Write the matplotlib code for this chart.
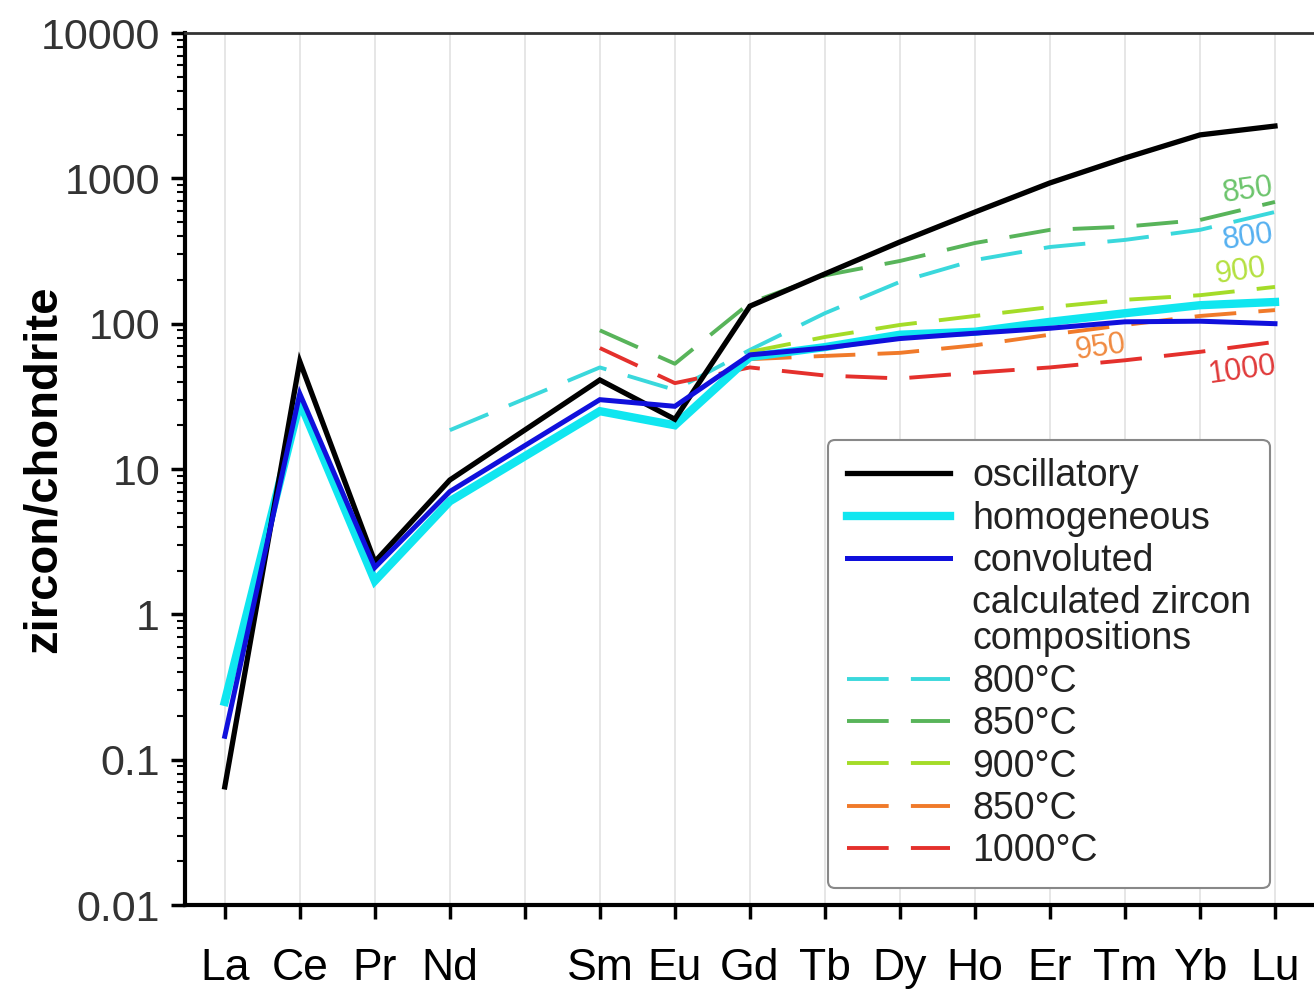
import matplotlib
matplotlib.use("Agg")
import matplotlib.pyplot as plt
import numpy as np
from matplotlib.ticker import LogLocator, FixedLocator, FuncFormatter, NullFormatter

plt.rcParams["lines.scale_dashes"] = False

# REE order (Pm left blank)
elements = ["La", "Ce", "Pr", "Nd", "", "Sm", "Eu", "Gd", "Tb", "Dy", "Ho", "Er", "Tm", "Yb", "Lu"]

# measured zircon groups: La Ce Pr Nd Sm Eu Gd Tb Dy Ho Er Tm Yb Lu
measuredEls = ["La", "Ce", "Pr", "Nd", "Sm", "Eu", "Gd", "Tb", "Dy", "Ho", "Er", "Tm", "Yb", "Lu"]
oscillatory = [0.065, 55, 2.3, 8.4, 41, 22, 132, 220, 365, 586, 930, 1380, 1990, 2290]
homogeneous = [0.25, 29, 1.7, 6.0, 25, 20, 59, 69, 84, 88, 103, 118, 134, 141]
convoluted = [0.145, 33, 2.1, 7.0, 30, 27, 61, 68, 79, 86, 93, 103, 104, 100]

# calculated zircon compositions
calc800Els = ["Nd", "Sm", "Eu", "Gd", "Tb", "Dy", "Ho", "Er", "Tm", "Yb", "Lu"]
calc800 = [18.5, 50, 35, 66, 118, 194, 274, 337, 377, 442, 587]
calc850Els = ["Sm", "Eu", "Gd", "Tb", "Dy", "Ho", "Er", "Tm", "Yb", "Lu"]
calc850 = [90, 53, 139, 215, 270, 359, 442, 465, 517, 688]
calc900Els = ["Gd", "Tb", "Dy", "Ho", "Er", "Tm", "Yb", "Lu"]
calc900 = [64, 81, 98, 113, 130, 146, 157, 179]
calc950Els = ["Gd", "Tb", "Dy", "Ho", "Er", "Tm", "Yb", "Lu"]
calc950 = [57, 60, 63, 71, 84, 98, 113, 124]
calc1000Els = ["Sm", "Eu", "Gd", "Tb", "Dy", "Ho", "Er", "Tm", "Yb", "Lu"]
calc1000 = [68, 39, 50, 44, 42, 46, 50, 56, 64, 75]


def xs(names):
    return [elements.index(n) for n in names]


font = ["Liberation Sans", "DejaVu Sans"]

fig = plt.figure(figsize=(13.14, 9.94), dpi=100)
ax = fig.add_axes([0.1408, 0.0895, 0.8592, 0.8773])

dash = (30, 16)
ax.plot(xs(calc800Els), calc800, color="#3ad8dc", lw=2.8, dashes=dash, label="800°C")
ax.plot(xs(calc850Els), calc850, color="#58b45a", lw=2.8, dashes=dash, label="850°C")
ax.plot(xs(calc900Els), calc900, color="#a4dc28", lw=2.8, dashes=dash, label="900°C")
ax.plot(xs(calc950Els), calc950, color="#f07a2a", lw=2.8, dashes=dash, label="850°C")
ax.plot(xs(calc1000Els), calc1000, color="#e4302c", lw=2.8, dashes=dash, label="1000°C")

ax.plot(xs(measuredEls), homogeneous, color="#10e6f0", lw=6, solid_joinstyle="miter", label="homogeneous")
ax.plot(xs(measuredEls), oscillatory, color="black", lw=3.8, solid_joinstyle="miter", label="oscillatory")
ax.plot(xs(measuredEls), convoluted, color="#1010dc", lw=3.6, solid_joinstyle="miter", label="convoluted")

labelRot = 8
ax.text(13.64, 830, "850", color="#6cc46c", fontsize=22, family=font, ha="center", va="center", rotation=labelRot)
ax.text(13.64, 390, "800", color="#55b0f0", fontsize=22, family=font, ha="center", va="center", rotation=labelRot)
ax.text(13.55, 228, "900", color="#b4e040", fontsize=22, family=font, ha="center", va="center", rotation=labelRot)
ax.text(11.67, 68, "950", color="#f08a40", fontsize=22, family=font, ha="center", va="center", rotation=labelRot)
ax.text(13.57, 48, "1000", color="#e03a3a", fontsize=22, family=font, ha="center", va="center", rotation=labelRot)

ax.set_yscale("log")
ax.set_ylim(0.01, 10000)
ax.set_xlim(-0.53, 14.52)

ax.xaxis.set_major_locator(FixedLocator(range(len(elements))))
ax.set_xticklabels(elements, fontsize=32, family=font)
ax.tick_params(axis="x", direction="out", length=10, width=2.5, pad=21)

ax.yaxis.set_major_locator(LogLocator(base=10, numticks=20))
ax.yaxis.set_minor_locator(LogLocator(base=10, subs=np.arange(2, 10), numticks=20))
ax.yaxis.set_major_formatter(FuncFormatter(lambda v, p: f"{v:g}"))
ax.yaxis.set_minor_formatter(NullFormatter())
ax.tick_params(axis="y", which="major", direction="out", length=10, width=2.5, pad=8, labelsize=31, labelcolor="#333333")
ax.tick_params(axis="y", which="minor", direction="out", length=6, width=1.5)
for lab in ax.get_yticklabels():
    lab.set_family(font)

ax.set_ylabel("zircon/chondrite", fontsize=34, fontweight="bold", family=font)
ax.yaxis.set_label_coords(-0.106, 0.5)

ax.grid(axis="x", color="#e4e4e4", lw=1.3)
ax.set_axisbelow(True)
ax.spines["left"].set_linewidth(3)
ax.spines["bottom"].set_linewidth(3)
ax.spines["top"].set_linewidth(2)
ax.spines["top"].set_color("#333333")
ax.spines["right"].set_visible(False)

handles, labels = ax.get_legend_handles_labels()
order = [6, 5, 7]
h = [handles[i] for i in order]
l = [labels[i] for i in order]
blank = plt.Line2D([], [], color="none")
h.append(blank)
l.append("calculated zircon\ncompositions")
h += handles[:5]
l += labels[:5]
leg = ax.legend(h, l, loc="lower right", bbox_to_anchor=(0.961, 0.0195), borderaxespad=0,
                prop={"family": font, "size": 27}, handlelength=2.75, handletextpad=0.6,
                labelspacing=0.17, borderpad=0.5, frameon=True, fancybox=True, framealpha=1)
leg.get_frame().set_edgecolor("#888888")
leg.get_frame().set_linewidth(1.5)
for t in leg.get_texts():
    t.set_color("#222222")
    t.set_linespacing(1.0)

fig.savefig("out.png", dpi=100)
